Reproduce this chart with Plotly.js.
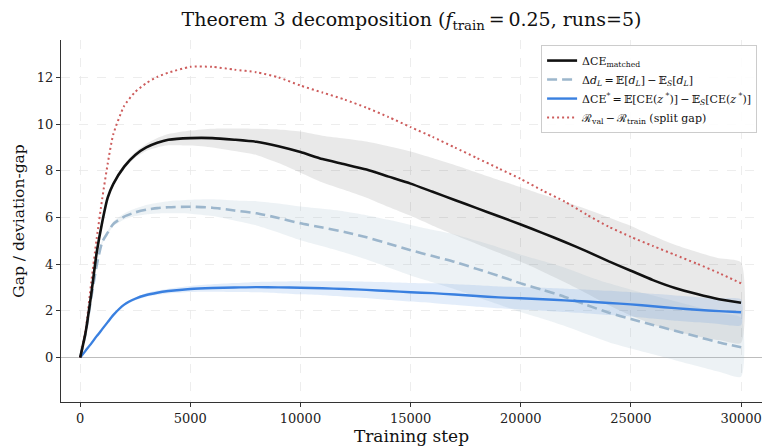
<!DOCTYPE html>
<html>
<head>
<meta charset="utf-8">
<script src="https://cdn.plot.ly/plotly-3.0.1.min.js"></script>
<style>html,body{margin:0;padding:0;background:#fff;}#chart{width:764px;height:448px;}</style>
</head>
<body>
<div id="chart"></div>
<script>
// Training steps (x)
const steps = [0,250,500,750,1000,1250,1500,2000,2500,3000,3500,4000,5000,6000,7000,8000,9000,10000,
  11000,12000,13000,14000,15000,16000,17000,18000,19000,20000,21000,22000,23000,24000,25000,26000,27000,28000,29000,30000];

// ΔCE_matched mean and std
const ceMatched = [0,1.1,2.7,4.5,5.8,6.85,7.43,8.18,8.68,9.0,9.2,9.33,9.4,9.4,9.33,9.24,9.05,8.8,
  8.5,8.28,8.05,7.75,7.45,7.1,6.75,6.4,6.05,5.7,5.33,4.95,4.55,4.12,3.72,3.32,2.98,2.72,2.5,2.35];
const ceMatchedStd = [0,0.02,0.04,0.05,0.06,0.07,0.08,0.1,0.12,0.15,0.2,0.24,0.32,0.4,0.48,0.56,0.72,0.88,
  1.0,1.1,1.2,1.3,1.38,1.45,1.5,1.53,1.56,1.6,1.65,1.72,1.8,1.88,1.92,1.9,1.85,1.8,1.75,1.72];

// Δd_L mean and std
const dL = [0,1.05,2.55,3.95,4.95,5.35,5.72,6.04,6.22,6.33,6.4,6.44,6.46,6.42,6.3,6.18,5.98,5.75,
  5.57,5.38,5.15,4.88,4.6,4.35,4.1,3.8,3.5,3.18,2.9,2.6,2.25,1.92,1.65,1.4,1.15,0.9,0.65,0.44];
const dLStd = [0,0.02,0.04,0.06,0.08,0.09,0.1,0.13,0.16,0.2,0.23,0.26,0.3,0.36,0.43,0.52,0.62,0.72,
  0.8,0.88,0.95,1.02,1.08,1.12,1.17,1.2,1.22,1.23,1.24,1.25,1.25,1.26,1.26,1.26,1.26,1.26,1.26,1.26];

// ΔCE* mean and std
const ceStar = [0,0.3,0.6,0.92,1.22,1.52,1.82,2.27,2.52,2.68,2.78,2.85,2.94,2.98,3.0,3.02,3.01,2.99,
  2.97,2.94,2.9,2.85,2.8,2.76,2.7,2.64,2.58,2.54,2.5,2.45,2.4,2.34,2.28,2.2,2.12,2.05,1.99,1.94];
const ceStarStd = [0,0.01,0.01,0.02,0.03,0.03,0.04,0.05,0.06,0.08,0.09,0.1,0.13,0.16,0.19,0.22,0.25,0.28,
  0.3,0.33,0.35,0.38,0.4,0.42,0.44,0.46,0.47,0.48,0.49,0.5,0.51,0.52,0.52,0.53,0.54,0.54,0.55,0.55];

// Split gap R_val - R_train
const splitGap = [0,1.2,3.2,5.1,6.8,8.3,9.55,10.78,11.38,11.75,12.02,12.2,12.45,12.45,12.33,12.22,12.0,11.65,
  11.35,11.05,10.7,10.3,9.87,9.45,9.0,8.55,8.1,7.65,7.15,6.68,6.12,5.6,5.17,4.78,4.4,4.02,3.62,3.18];

const xTicks = [0,5000,10000,15000,20000,25000,30000];
const yTicks = [0,2,4,6,8,10,12];

const labels = [
  'ΔCE<sub>matched</sub>',
  'Δ<i>d<sub>L</sub></i>\u2009=\u2009𝔼[<i>d<sub>L</sub></i>]\u2009−\u2009𝔼<sub><i>S</i></sub>[<i>d<sub>L</sub></i>]',
  'ΔCE<sup>*</sup>\u2009=\u2009𝔼[CE(<i>z</i><sup> *</sup>)]\u2009−\u2009𝔼<sub><i>S</i></sub>[CE(<i>z</i><sup> *</sup>)]',
  'ℛ<sub>val</sub>\u2009−\u2009ℛ<sub>train</sub> (split gap)'
];

function band(mean, std, color) {
  const up = mean.map((m, i) => m + std[i]);
  const lo = mean.map((m, i) => m - std[i]);
  return {
    x: steps.concat(steps.slice().reverse()),
    y: up.concat(lo.slice().reverse()),
    type: 'scatter', mode: 'lines', fill: 'toself', fillcolor: color,
    line: {width: 0, color: 'rgba(0,0,0,0)', shape: 'spline', smoothing: 0.6}, hoverinfo: 'skip', showlegend: false
  };
}

const traces = [
  band(ceMatched, ceMatchedStd, 'rgba(0,0,0,0.085)'),
  band(dL, dLStd, 'rgba(155,181,202,0.18)'),
  band(ceStar, ceStarStd, 'rgba(58,127,220,0.14)'),
  {x: steps, y: dL, type: 'scatter', mode: 'lines', name: labels[1], legendrank: 2,
   line: {color: '#9cb6cc', width: 2.6, dash: '10px,5px', shape: 'spline', smoothing: 0.6}},
  {x: steps, y: ceStar, type: 'scatter', mode: 'lines', name: labels[2], legendrank: 3,
   line: {color: '#3a80e0', width: 2.4, shape: 'spline', smoothing: 0.6}},
  {x: steps, y: splitGap, type: 'scatter', mode: 'lines', name: labels[3], legendrank: 4,
   line: {color: '#cd5c5c', width: 2, dash: '2px,3px', shape: 'spline', smoothing: 0.6}},
  {x: steps, y: ceMatched, type: 'scatter', mode: 'lines', name: labels[0], legendrank: 1,
   line: {color: '#111111', width: 2.6, shape: 'spline', smoothing: 0.6}}
];

const font = '"DejaVu Serif", serif';
const layout = {
  width: 764, height: 448,
  paper_bgcolor: '#fff', plot_bgcolor: '#fff',
  margin: {l: 61, r: 2, t: 40, b: 46},
  font: {family: font, color: '#222', size: 13},
  title: {text: 'Theorem 3 decomposition (<i>f</i><sub>train</sub>\u2009=\u20090.25, runs=5)',
          font: {family: font, size: 19, color: '#111'},
          xref: 'paper', x: 0.5, xanchor: 'center', yref: 'container', y: 0.972, yanchor: 'top'},
  xaxis: {
    range: [-870, 30950], tickvals: xTicks, ticktext: xTicks.map(String),
    showgrid: true, gridcolor: '#e8e8e8', griddash: 'dash', gridwidth: 0.8,
    zeroline: false, showline: true, linecolor: '#333', linewidth: 1.2,
    ticks: 'outside', ticklen: 4, tickcolor: '#333',
    tickfont: {family: font, size: 13, color: '#222'},
    title: {text: 'Training step', font: {family: font, size: 17, color: '#111'}, standoff: 5}
  },
  yaxis: {
    range: [-1.9, 13.6], tickvals: yTicks, ticktext: yTicks.map(String),
    showgrid: true, gridcolor: '#e8e8e8', griddash: 'dash', gridwidth: 0.8,
    zeroline: true, zerolinecolor: '#bdbdbd', zerolinewidth: 1.2,
    showline: true, linecolor: '#333', linewidth: 1.2,
    ticks: 'outside', ticklen: 4, tickcolor: '#333',
    tickfont: {family: font, size: 13, color: '#222'},
    title: {text: 'Gap / deviation-gap', font: {family: font, size: 15.5, color: '#111'}, standoff: 8}
  },
  legend: {
    x: 0.993, xanchor: 'right', y: 0.986, yanchor: 'top',
    bgcolor: 'rgba(255,255,255,0.85)', bordercolor: '#cccccc', borderwidth: 1,
    font: {family: font, size: 11, color: '#111'},
    tracegroupgap: 0, itemwidth: 30
  },
  showlegend: true
};

Plotly.newPlot('chart', traces, layout, {displayModeBar: false, staticPlot: true});
</script>
</body>
</html>
